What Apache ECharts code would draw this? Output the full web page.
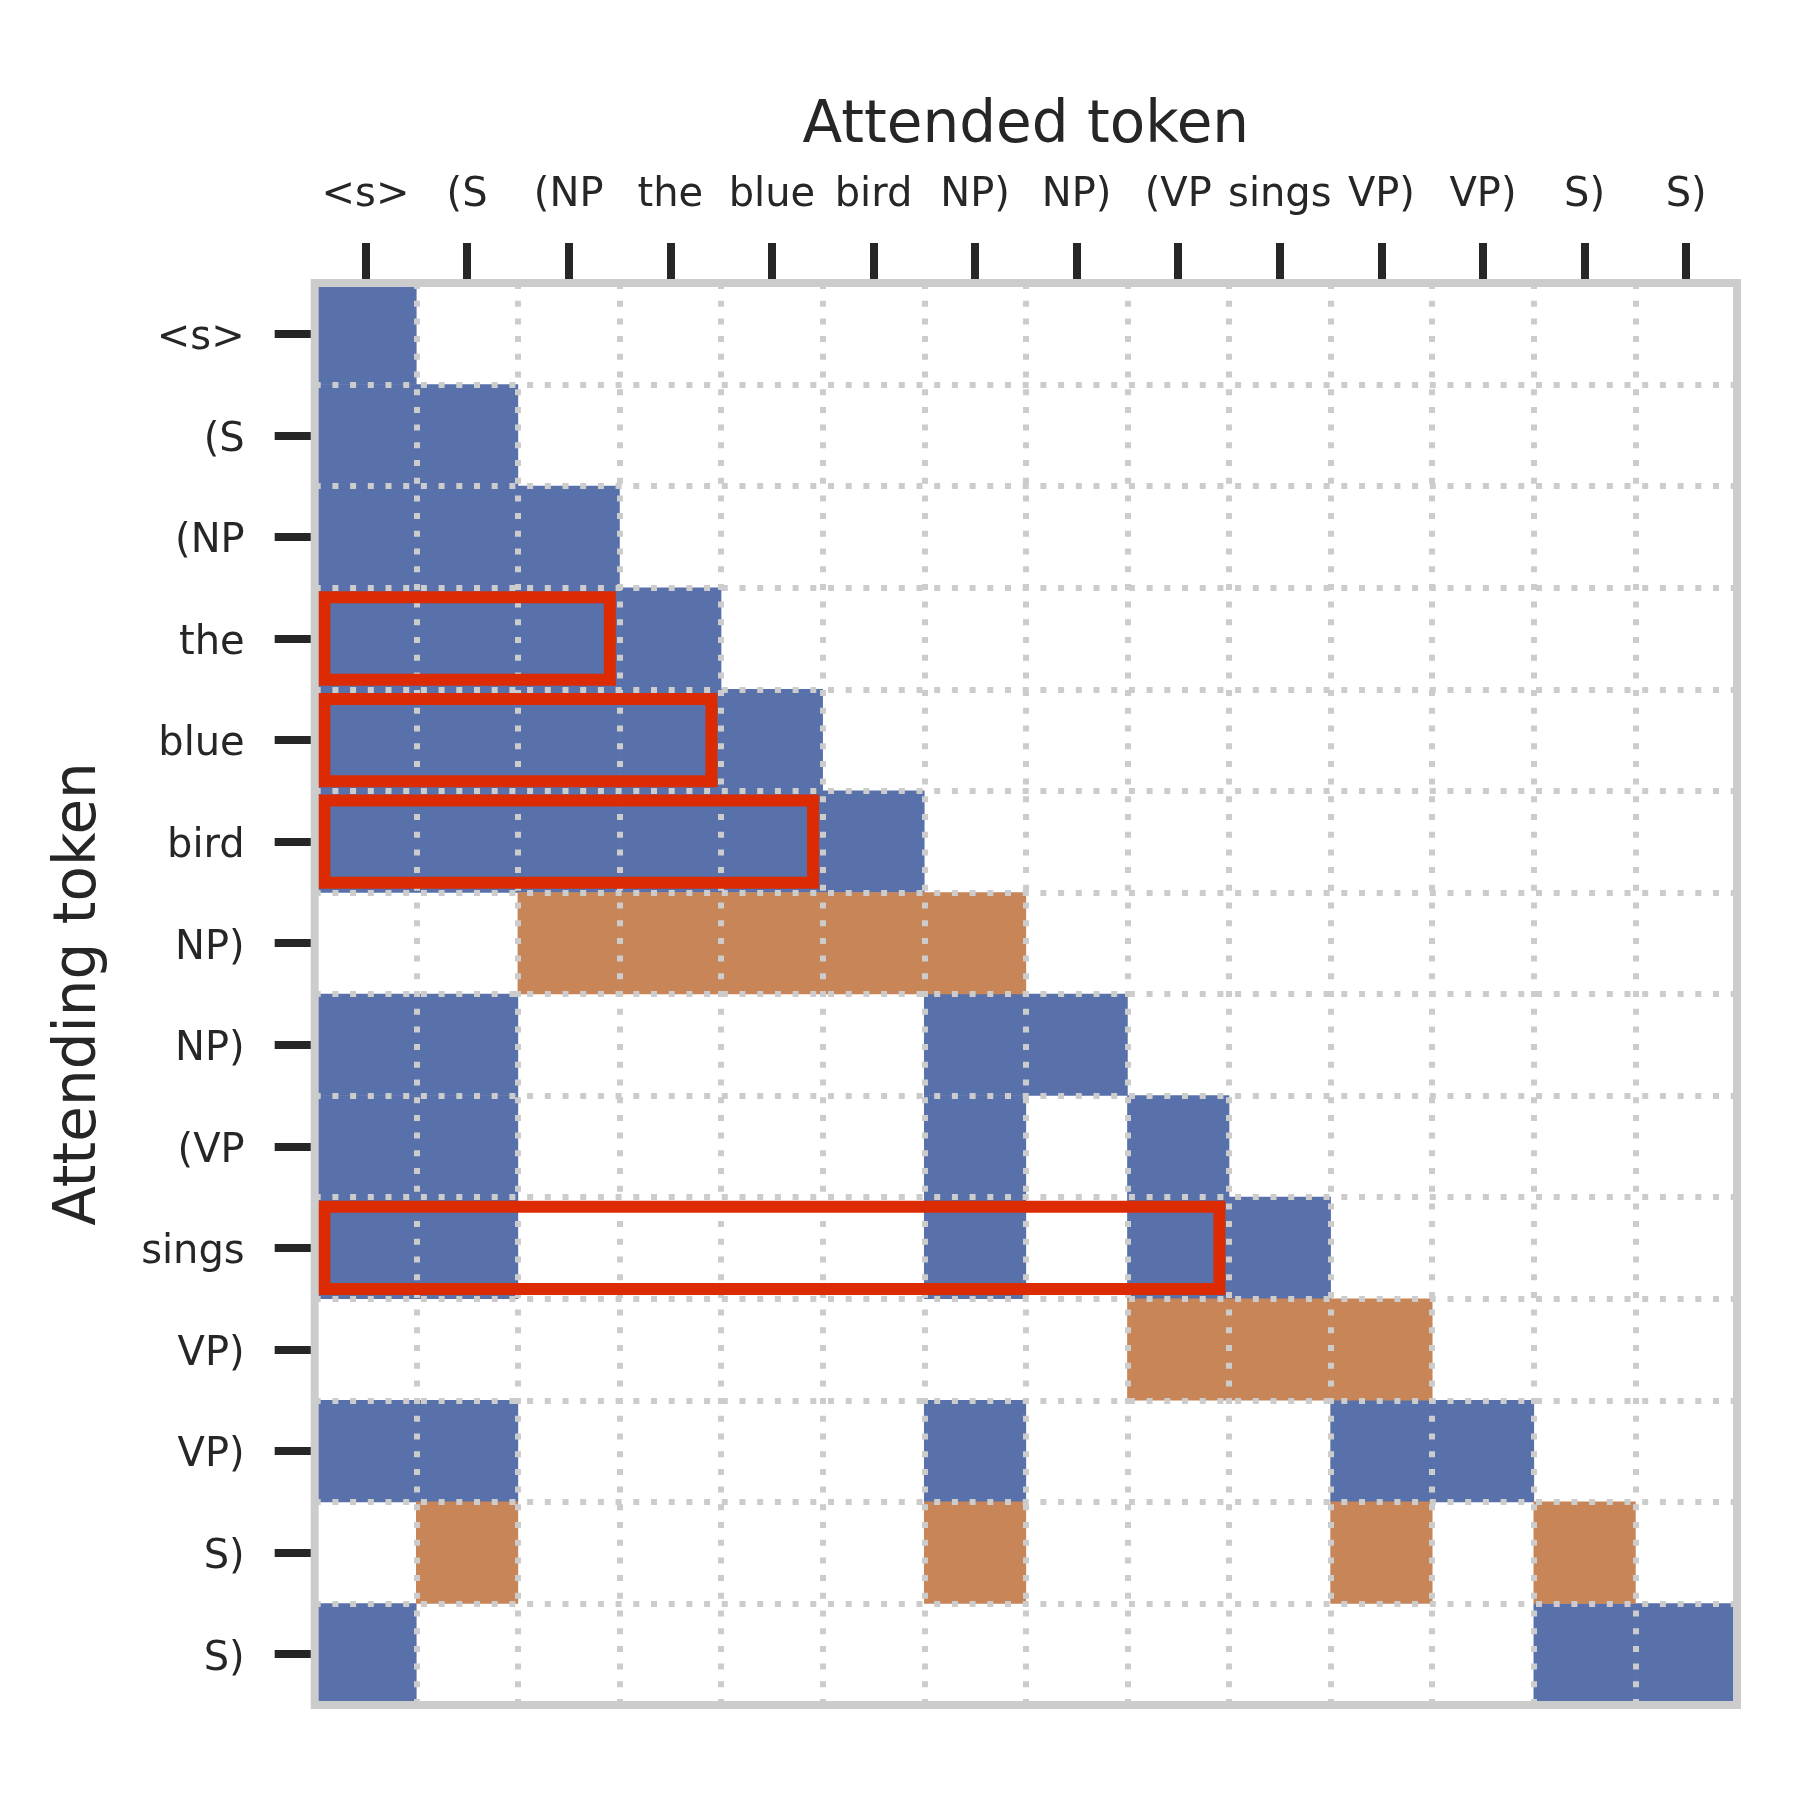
<!DOCTYPE html>
<html>
<head>
<meta charset="utf-8">
<script src="https://cdn.jsdelivr.net/npm/echarts@6.0.0/dist/echarts.min.js"></script>
<style>
  html, body { margin: 0; padding: 0; background: #fff; }
  #main { width: 1800px; height: 1800px; }
</style>
</head>
<body>
<div id="main"></div>
<script>
  // tokens, same order on both axes
  const tokens = ['<s>', '(S', '(NP', 'the', 'blue', 'bird', 'NP)', 'NP)', '(VP', 'sings', 'VP)', 'VP)', 'S)', 'S)']

  // for each attending row: attended columns (blue)
  const attendCols = [
    [0],
    [0, 1],
    [0, 1, 2],
    [0, 1, 2, 3],
    [0, 1, 2, 3, 4],
    [0, 1, 2, 3, 4, 5],
    [],
    [0, 1, 6, 7],
    [0, 1, 6, 8],
    [0, 1, 6, 8, 9],
    [],
    [0, 1, 6, 10, 11],
    [],
    [0, 12, 13]
  ]

  // for each attending row: composed columns (orange)
  const composeCols = [
    [], [], [], [], [], [],
    [2, 3, 4, 5, 6],
    [], [], [],
    [8, 9, 10],
    [],
    [1, 6, 10, 12],
    []
  ]

  // red boxes: row, first column, last column
  const boxRows = [3, 4, 5, 9]
  const boxStarts = [0, 0, 0, 0]
  const boxEnds = [2, 3, 4, 8]

  const BLUE = '#5971ab'
  const ORANGE = '#c78558'
  const RED = '#dc2a03'
  const TEXT = '#262626'
  const FONT = 'DejaVu Sans'

  /*cells as [col, row, kind]*/
  let cells = []
  attendCols.forEach((cols, row) => cols.forEach(c => cells.push([c, row, 1])))
  composeCols.forEach((cols, row) => cols.forEach(c => cells.push([c, row, 2])))

  let boxes = boxRows.map((r, i) => [boxStarts[i], r, boxEnds[i]])

  let chart = echarts.init(document.getElementById('main'), null, { renderer: 'canvas' })

  let cellItem = (params, api) => {
    let c = api.coord([api.value(0), api.value(1)])
    let s = api.size([1, 1])
    return {
      type: 'rect',
      shape: { x: c[0] - s[0] / 2 - 0.3, y: c[1] - s[1] / 2 - 0.3, width: s[0] + 0.6, height: s[1] + 0.6 },
      style: { fill: api.value(2) === 1 ? BLUE : ORANGE }
    }
  }

  let boxItem = (params, api) => {
    let a = api.coord([api.value(0), api.value(1)])
    let b = api.coord([api.value(2), api.value(1)])
    let s = api.size([1, 1])
    let inset = 0.095
    let x0 = a[0] - s[0] / 2 + s[0] * inset
    let x1 = b[0] + s[0] / 2 - s[0] * inset
    let y0 = a[1] - s[1] / 2 + s[1] * inset
    let y1 = a[1] + s[1] / 2 - s[1] * inset
    return {
      type: 'rect',
      shape: { x: x0, y: y0, width: x1 - x0, height: y1 - y0 },
      style: { fill: 'none', stroke: RED, lineWidth: 12 }
    }
  }

  let dotted = { color: '#cccccc', width: 6, type: [6, 11.7] }

  let option = {
    backgroundColor: '#ffffff',
    animation: false,
    grid: {
      show: true,
      left: 314.7, top: 283, width: 1422.3, height: 1422,
      backgroundColor: 'transparent',
      borderColor: '#cccccc',
      borderWidth: 8,
      z: 10
    },
    xAxis: [{
      type: 'category',
      data: tokens,
      position: 'top',
      boundaryGap: true,
      name: 'Attended token',
      nameLocation: 'middle',
      nameGap: 127,
      nameTextStyle: { fontFamily: FONT, fontSize: 58, color: TEXT },
      axisLine: { show: false },
      axisTick: { show: true, alignWithLabel: true, length: 40, lineStyle: { color: TEXT, width: 8 } },
      axisLabel: { interval: 0, margin: 67, fontFamily: FONT, fontSize: 40, color: TEXT },
      splitLine: { show: false }
    }, {
      type: 'category',
      data: tokens,
      position: 'bottom',
      boundaryGap: true,
      z: 5,
      axisLine: { show: false },
      axisTick: { show: false },
      axisLabel: { show: false },
      splitLine: { show: true, interval: 0, lineStyle: dotted }
    }],
    yAxis: [{
      type: 'category',
      data: tokens,
      inverse: true,
      position: 'left',
      boundaryGap: true,
      name: 'Attending token',
      nameLocation: 'middle',
      nameRotate: 90,
      nameGap: 206,
      nameTextStyle: { fontFamily: FONT, fontSize: 58, color: TEXT },
      axisLine: { show: false },
      axisTick: { show: true, alignWithLabel: true, length: 40, lineStyle: { color: TEXT, width: 8 } },
      axisLabel: {
        interval: 0, margin: 70,
        formatter: v => '{t|' + v + '}',
        rich: { t: { fontFamily: FONT, fontSize: 40, color: TEXT, padding: [10, 0, 0, 0] } }
      },
      splitLine: { show: false }
    }, {
      type: 'category',
      data: tokens,
      inverse: true,
      position: 'right',
      boundaryGap: true,
      z: 5,
      axisLine: { show: false },
      axisTick: { show: false },
      axisLabel: { show: false },
      splitLine: { show: true, interval: 0, lineStyle: dotted }
    }],
    series: [{
      type: 'custom',
      name: 'cells',
      xAxisIndex: 0,
      yAxisIndex: 0,
      z: 2,
      renderItem: cellItem,
      encode: { x: 0, y: 1 },
      data: cells
    }, {
      type: 'custom',
      name: 'boxes',
      xAxisIndex: 0,
      yAxisIndex: 0,
      z: 8,
      renderItem: boxItem,
      encode: { x: 0, y: 1 },
      data: boxes
    }]
  }

  chart.setOption(option)
</script>
</body>
</html>
